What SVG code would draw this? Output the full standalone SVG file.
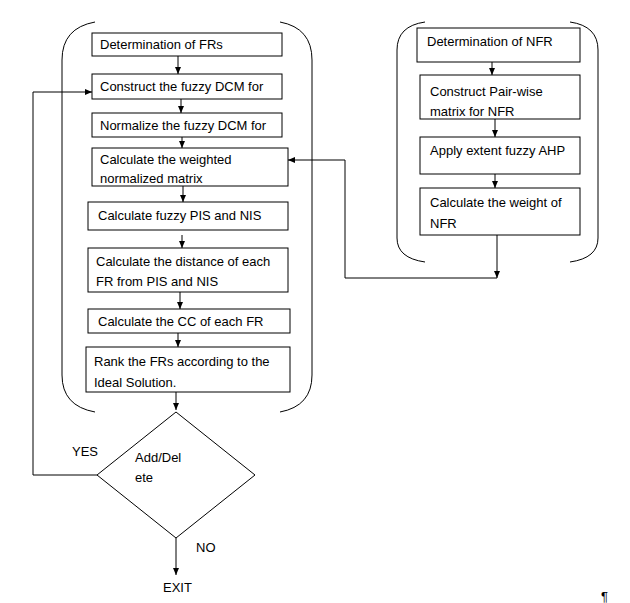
<svg xmlns="http://www.w3.org/2000/svg" width="630" height="603" viewBox="0 0 630 603">
<style>
.b{fill:#fff;stroke:#000;stroke-width:1}
.br{fill:none;stroke:#000;stroke-width:1}
.c{fill:none;stroke:#000;stroke-width:1}
text{font-family:"Liberation Sans",Arial,sans-serif;font-size:13px;fill:#000}
</style>
<defs><marker id="a" markerWidth="8" markerHeight="8" refX="7" refY="4" orient="auto" markerUnits="userSpaceOnUse"><path d="M0,1 L7,4 L0,7z" fill="#000"/></marker></defs>
<rect width="630" height="603" fill="#fff"/>
<g id="brackets">
<path class="br" d="M95,22 Q62,28 62,60 V375 Q62,406 95,412"/>
<path class="br" d="M280,22 Q312,28 312,60 V375 Q312,406 280,412"/>
<path class="br" d="M425,22 Q397,26 397,50 V238 Q397,258 425,262"/>
<path class="br" d="M570,22 Q598,26 598,50 V238 Q598,258 570,262"/>
</g>
<g id="n1"><rect class="b" x="92" y="33" width="190" height="23"/><text x="100" y="49">Determination of FRs</text></g>
<g id="n2"><rect class="b" x="92" y="74" width="190" height="25"/><text x="100" y="91">Construct the fuzzy DCM for</text></g>
<g id="n3"><rect class="b" x="92" y="113" width="190" height="24"/><text x="100" y="130">Normalize the fuzzy DCM for</text></g>
<g id="n4"><rect class="b" x="92" y="148" width="196" height="38"/><text x="100" y="164">Calculate the weighted</text><text x="100" y="183">normalized matrix</text></g>
<g id="n5"><rect class="b" x="88" y="202" width="200" height="28"/><text x="98" y="220">Calculate fuzzy PIS and NIS</text></g>
<g id="n6"><rect class="b" x="88" y="248" width="200" height="44"/><text x="96" y="266">Calculate the distance of each</text><text x="96" y="286">FR from PIS and NIS</text></g>
<g id="n7"><rect class="b" x="88" y="309" width="202" height="24"/><text x="98" y="326">Calculate the CC of each FR</text></g>
<g id="n8"><rect class="b" x="86" y="347" width="204" height="45"/><text x="94" y="366">Rank the FRs according to the</text><text x="94" y="387">Ideal Solution.</text></g>
<g id="d1"><path class="b" d="M176,412 L255,475 L176,538 L97,475z"/><text x="135" y="462">Add/Del</text><text x="135" y="482">ete</text></g>
<g id="m1"><rect class="b" x="417" y="28" width="163" height="34"/><text x="427" y="46">Determination of NFR</text></g>
<g id="m2"><rect class="b" x="420" y="75" width="160" height="44"/><text x="430" y="96">Construct Pair-wise</text><text x="430" y="116">matrix for NFR</text></g>
<g id="m3"><rect class="b" x="420" y="137" width="160" height="37"/><text x="430" y="155">Apply extent fuzzy AHP</text></g>
<g id="m4"><rect class="b" x="420" y="188" width="160" height="47"/><text x="430" y="207">Calculate the weight of</text><text x="430" y="228">NFR</text></g>
<g id="labels"><text x="72" y="456">YES</text><text x="196" y="552">NO</text><text x="163" y="592">EXIT</text><text x="601" y="601">¶</text></g>
<g id="connectors">
<path class="c" marker-end="url(#a)" d="M178,56 V74"/>
<path class="c" marker-end="url(#a)" d="M181,99 V113"/>
<path class="c" marker-end="url(#a)" d="M182,137 V148"/>
<path class="c" marker-end="url(#a)" d="M183,186 V202"/>
<path class="c" marker-end="url(#a)" d="M182,235 V248"/>
<path class="c" marker-end="url(#a)" d="M180,292 V309"/>
<path class="c" marker-end="url(#a)" d="M178,333 V347"/>
<path class="c" marker-end="url(#a)" d="M176,392 V410"/>
<path class="c" marker-end="url(#a)" d="M176,538 V575"/>
<path class="c" marker-end="url(#a)" d="M97,475 H33 V92 H92"/>
<path class="c" marker-end="url(#a)" d="M492,62 V75"/>
<path class="c" marker-end="url(#a)" d="M495,119 V137"/>
<path class="c" marker-end="url(#a)" d="M495,174 V188"/>
<path class="c" marker-end="url(#a)" d="M497,235 V278"/>
<path class="c" marker-end="url(#a)" d="M497,278 H345 V160 H288"/>
</g>
</svg>
